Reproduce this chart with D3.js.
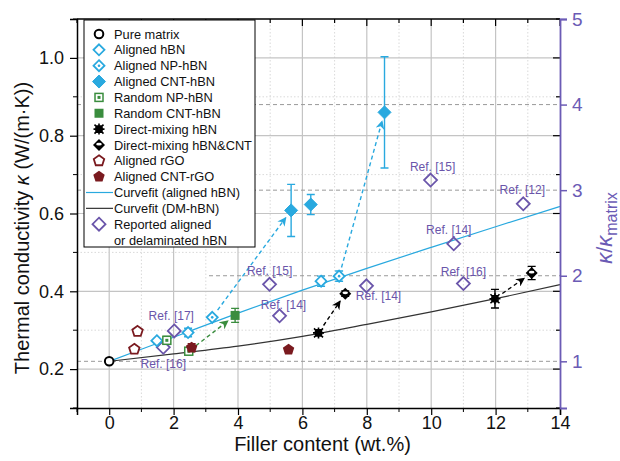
<!DOCTYPE html>
<html>
<head>
<meta charset="utf-8">
<script src="https://cdn.jsdelivr.net/npm/d3@7"></script>
<style>
  body { margin: 0; background: #fff; }
  svg { font-family: "Liberation Sans", Arial, sans-serif; }
</style>
</head>
<body>
<div id="chart"></div>
<script>
// chart data
var pureMatrix = [{x: 0, y: 0.22}];
var alignedHBN = [{x: 1.48, y: 0.273}, {x: 2.45, y: 0.294, e: 0.011}, {x: 6.58, y: 0.426, e: 0.013}];
var alignedNPHBN = [{x: 3.2, y: 0.333}, {x: 7.14, y: 0.439, e: 0.013}];
var alignedCNTHBN = [{x: 5.65, y: 0.608, e: 0.067}, {x: 6.26, y: 0.623, e: 0.026}, {x: 8.55, y: 0.86, e: 0.143}];
var randomNPHBN = [{x: 1.79, y: 0.274, e: 0.01}, {x: 2.47, y: 0.246}];
var randomCNTHBN = [{x: 3.91, y: 0.338, e: 0.018}];
var dmHBN = [{x: 6.5, y: 0.293}, {x: 11.98, y: 0.381, e: 0.024}];
var dmHBNCNT = [{x: 7.33, y: 0.394, e: 0.007}, {x: 13.12, y: 0.447, e: 0.017}];
var alignedRGO = [{x: 0.78, y: 0.251}, {x: 0.88, y: 0.297}];
var alignedCNTRGO = [{x: 2.56, y: 0.255, e: 0.01}, {x: 5.57, y: 0.25}];
var reported = [
  {x: 1.68, y: 0.256, ref: "Ref. [16]"},
  {x: 2.02, y: 0.298, ref: "Ref. [17]"},
  {x: 4.98, y: 0.418, ref: "Ref. [15]"},
  {x: 5.29, y: 0.337, ref: "Ref. [14]"},
  {x: 7.99, y: 0.414, ref: "Ref. [14]"},
  {x: 9.98, y: 0.686, ref: "Ref. [15]"},
  {x: 10.7, y: 0.522, ref: "Ref. [14]"},
  {x: 11.0, y: 0.42, ref: "Ref. [16]"},
  {x: 12.86, y: 0.625, ref: "Ref. [12]"}
];
// where each ref label sits relative to its diamond (px)
var refOffsets = [[0, 21], [-3, -11], [0, -9], [4, -7], [12, 14], [2, -9], [-5, -10], [0, -8], [-1, -10]];

// curve fits
var fitX = [0, 2, 4, 6, 8, 10, 12, 14];
var fitAligned = [0.22, 0.282, 0.344, 0.403, 0.459, 0.513, 0.566, 0.618];
var fitDM = [0.22, 0.239, 0.259, 0.284, 0.315, 0.347, 0.381, 0.417];

// dashed arrows [from, to]
var arrows = [
  {from: [3.2, 0.333], to: [5.65, 0.608], color: "#29a9df"},
  {from: [7.14, 0.439], to: [8.55, 0.86], color: "#29a9df"},
  {from: [2.47, 0.246], to: [3.91, 0.338], color: "#3a8d3e"},
  {from: [6.5, 0.293], to: [7.33, 0.394], color: "#000"},
  {from: [11.98, 0.381], to: [13.12, 0.447], color: "#000"}
];

var xTicks = [0, 2, 4, 6, 8, 10, 12, 14];
var xMinor = [-1, 1, 3, 5, 7, 9, 11, 13];
var yTicks = [0.2, 0.4, 0.6, 0.8, 1.0];
var yMinor = [0.1, 0.3, 0.5, 0.7, 0.9, 1.1];
var rTicks = [1, 2, 3, 4, 5];
var kMatrix = 0.22;

var cyan = "#29a9df", green = "#3a8d3e", red = "#7a1a1f", purple = "#6a55aa", axisPurple = "#6b5bb5";

var svgWidth = 620, svgHeight = 461;
var margin = {top: 19, right: 60, bottom: 53, left: 77};

var svg = d3.select("#chart").append("svg")
  .attr("width", svgWidth)
  .attr("height", svgHeight);

var x = d3.scaleLinear().domain([-1, 14]).range([margin.left, svgWidth - margin.right]);
var y = d3.scaleLinear().domain([0.1, 1.1]).range([svgHeight - margin.bottom, margin.top]);
var yR = d3.scaleLinear().domain([0.1 / kMatrix, 1.1 / kMatrix]).range([svgHeight - margin.bottom, margin.top]);

var x0 = x.range()[0], x1 = x.range()[1], y0 = y.range()[0], y1 = y.range()[1];

// grid
var grid = svg.append("g");
grid.selectAll(".vmaj").data(xTicks.slice(0, -1)).enter().append("line")
  .attr("x1", d => x(d)).attr("x2", d => x(d)).attr("y1", y0).attr("y2", y1)
  .attr("stroke", "#c4c4c4").attr("stroke-width", 1.2);
grid.selectAll(".vmin").data(xMinor.slice(1)).enter().append("line")
  .attr("x1", d => x(d)).attr("x2", d => x(d)).attr("y1", y0).attr("y2", y1)
  .attr("stroke", "#cfcfcf").attr("stroke-width", 0.8).attr("stroke-dasharray", "1.5,2");
grid.selectAll(".hmaj").data(yTicks).enter().append("line")
  .attr("x1", x0).attr("x2", x1).attr("y1", d => y(d)).attr("y2", d => y(d))
  .attr("stroke", "#c4c4c4").attr("stroke-width", 1.2);
grid.selectAll(".hmin").data(yMinor.slice(1, -1)).enter().append("line")
  .attr("x1", x0).attr("x2", x1).attr("y1", d => y(d)).attr("y2", d => y(d))
  .attr("stroke", "#cfcfcf").attr("stroke-width", 0.8).attr("stroke-dasharray", "1.5,2");
// right axis grid (dashed)
grid.selectAll(".rgrid").data(rTicks.slice(0, -1)).enter().append("line")
  .attr("x1", d => d === 2 ? x(3.1) : x0).attr("x2", x1)
  .attr("y1", d => yR(d)).attr("y2", d => yR(d))
  .attr("stroke", "#9a9a9a").attr("stroke-width", 1).attr("stroke-dasharray", "4,3");

// curve fits
var fitLine = d3.line().x(d => x(d[0])).y(d => y(d[1])).curve(d3.curveMonotoneX);
svg.append("path").datum(fitX.map((v, i) => [v, fitAligned[i]]))
  .attr("d", fitLine).attr("fill", "none").attr("stroke", cyan).attr("stroke-width", 1.2);
svg.append("path").datum(fitX.map((v, i) => [v, fitDM[i]]))
  .attr("d", fitLine).attr("fill", "none").attr("stroke", "#333").attr("stroke-width", 1.2);

// arrows
var defs = svg.append("defs");
arrows.forEach(function(a, i) {
  defs.append("marker").attr("id", "ah" + i)
    .attr("viewBox", "0 0 10 10").attr("refX", 9).attr("refY", 5)
    .attr("markerWidth", 9).attr("markerHeight", 9).attr("markerUnits", "userSpaceOnUse")
    .attr("orient", "auto")
    .append("path").attr("d", "M0,0 L10,5 L0,10 L3,5 Z").attr("fill", a.color);
  var sx = x(a.from[0]), sy = y(a.from[1]), tx = x(a.to[0]), ty = y(a.to[1]);
  var len = Math.hypot(tx - sx, ty - sy), ux = (tx - sx) / len, uy = (ty - sy) / len;
  svg.append("line")
    .attr("x1", sx + ux * 9).attr("y1", sy + uy * 9)
    .attr("x2", tx - ux * 9).attr("y2", ty - uy * 9)
    .attr("stroke", a.color).attr("stroke-width", 1.4).attr("stroke-dasharray", "4,3")
    .attr("marker-end", "url(#ah" + i + ")");
});

// symbols
function diamond(s) { return "M0," + (-s) + "L" + s + ",0L0," + s + "L" + (-s) + ",0Z"; }
function pentagon(r) {
  var pts = d3.range(5).map(i => {
    var a = -Math.PI / 2 + i * 2 * Math.PI / 5;
    return [r * Math.cos(a), r * Math.sin(a)];
  });
  return "M" + pts.map(p => p.join(",")).join("L") + "Z";
}
function drawSymbol(g, type, cx, cy) {
  var s = g.append("g").attr("transform", `translate(${cx},${cy})`);
  if (type === "circle") {
    s.append("circle").attr("r", 4.3).attr("fill", "#fff").attr("stroke", "#000").attr("stroke-width", 2);
  } else if (type === "diamondOpen") {
    s.append("path").attr("d", diamond(5.5)).attr("fill", "#fff").attr("stroke", cyan).attr("stroke-width", 1.8);
  } else if (type === "diamondDot") {
    s.append("path").attr("d", diamond(5.5)).attr("fill", "#fff").attr("stroke", cyan).attr("stroke-width", 1.8);
    s.append("circle").attr("r", 1.3).attr("fill", cyan);
  } else if (type === "diamondFill") {
    s.append("path").attr("d", diamond(6.5)).attr("fill", cyan).attr("stroke", cyan).attr("stroke-width", 1);
  } else if (type === "squareDot") {
    s.append("rect").attr("x", -4).attr("y", -4).attr("width", 8).attr("height", 8)
      .attr("fill", "#fff").attr("stroke", green).attr("stroke-width", 1.5);
    s.append("rect").attr("x", -1.5).attr("y", -1.5).attr("width", 3).attr("height", 3).attr("fill", green);
  } else if (type === "squareFill") {
    s.append("rect").attr("x", -4.5).attr("y", -4.5).attr("width", 9).attr("height", 9).attr("fill", green);
  } else if (type === "dmStar") {
    s.append("path").attr("d", "M-4.5,-4.5L4.5,4.5M-4.5,4.5L4.5,-4.5M0,-5.5L0,5.5M-5.5,0L5.5,0M-3,-3H3V3H-3Z")
      .attr("fill", "none").attr("stroke", "#000").attr("stroke-width", 1.6);
  } else if (type === "diamondBand") {
    s.append("path").attr("d", diamond(6)).attr("fill", "#000");
    s.append("ellipse").attr("cx", 0).attr("cy", -0.8).attr("rx", 2.8).attr("ry", 1.4).attr("fill", "#fff");
  } else if (type === "pentOpen") {
    s.append("path").attr("d", pentagon(5.5)).attr("fill", "#fff").attr("stroke", red).attr("stroke-width", 1.8);
  } else if (type === "pentFill") {
    s.append("path").attr("d", pentagon(6)).attr("fill", red);
  } else if (type === "diamondPurple") {
    s.append("path").attr("d", diamond(6.5)).attr("fill", "none").attr("stroke", purple).attr("stroke-width", 1.8);
  }
}

var series = [
  {name: "Pure matrix", data: pureMatrix, type: "circle", color: "#000"},
  {name: "Aligned hBN", data: alignedHBN, type: "diamondOpen", color: cyan},
  {name: "Aligned NP-hBN", data: alignedNPHBN, type: "diamondDot", color: cyan},
  {name: "Aligned CNT-hBN", data: alignedCNTHBN, type: "diamondFill", color: cyan},
  {name: "Random NP-hBN", data: randomNPHBN, type: "squareDot", color: green},
  {name: "Random CNT-hBN", data: randomCNTHBN, type: "squareFill", color: green},
  {name: "Direct-mixing hBN", data: dmHBN, type: "dmStar", color: "#000"},
  {name: "Direct-mixing hBN&CNT", data: dmHBNCNT, type: "diamondBand", color: "#000"},
  {name: "Aligned rGO", data: alignedRGO, type: "pentOpen", color: red},
  {name: "Aligned CNT-rGO", data: alignedCNTRGO, type: "pentFill", color: red}
];

// error bars then symbols
var marks = svg.append("g");
series.forEach(function(s) {
  s.data.filter(d => d.e).forEach(function(d) {
    var cx = x(d.x);
    marks.append("path")
      .attr("d", `M${cx},${y(d.y - d.e)}V${y(d.y + d.e)}M${cx - 4},${y(d.y - d.e)}H${cx + 4}M${cx - 4},${y(d.y + d.e)}H${cx + 4}`)
      .attr("stroke", s.color).attr("stroke-width", 1.4).attr("fill", "none");
  });
});
reported.forEach(function(d, i) {
  drawSymbol(marks, "diamondPurple", x(d.x), y(d.y));
  marks.append("text")
    .attr("x", x(d.x) + refOffsets[i][0]).attr("y", y(d.y) + refOffsets[i][1])
    .attr("text-anchor", "middle").attr("font-size", 12).attr("fill", purple)
    .text(d.ref);
});
series.forEach(function(s) {
  s.data.forEach(d => drawSymbol(marks, s.type, x(d.x), y(d.y)));
});

// axes
var bottomAxis = d3.axisBottom(x).tickValues(xTicks).tickSize(7).tickPadding(1).tickFormat(d3.format("d"));
var leftAxis = d3.axisLeft(y).tickValues(yTicks).tickSize(7).tickPadding(6).tickFormat(d3.format(".1f"));

var gb = svg.append("g").attr("transform", `translate(0,${y0})`).call(bottomAxis);
gb.append("g").selectAll("line").data(xMinor).enter().append("line")
  .attr("x1", d => x(d)).attr("x2", d => x(d)).attr("y1", 0).attr("y2", 4).attr("stroke", "#000");
var gl = svg.append("g").attr("transform", `translate(${x0},0)`).call(leftAxis);
gl.append("g").selectAll("line").data(yMinor).enter().append("line")
  .attr("y1", d => y(d)).attr("y2", d => y(d)).attr("x1", 0).attr("x2", -4).attr("stroke", "#000");
[gb, gl].forEach(function(g) {
  g.select(".domain").attr("stroke-width", 1.5);
  g.selectAll(".tick line").attr("stroke-width", 1.2);
  g.selectAll("text").attr("font-size", 18).attr("fill", "#111").attr("font-family", "Liberation Sans, Arial, sans-serif");
});

// top frame with inward ticks
var frame = svg.append("g");
frame.append("line").attr("x1", x0).attr("x2", x1).attr("y1", y1).attr("y2", y1).attr("stroke", "#000").attr("stroke-width", 1.5);
frame.selectAll(".tt").data(xTicks.concat(xMinor)).enter().append("line")
  .attr("x1", d => x(d)).attr("x2", d => x(d)).attr("y1", y1)
  .attr("y2", d => y1 + (xTicks.indexOf(d) >= 0 ? 7 : 4)).attr("stroke", "#000").attr("stroke-width", 1.2);
// right side inward ticks for left axis
frame.selectAll(".rt").data(yTicks.concat(yMinor)).enter().append("line")
  .attr("y1", d => y(d)).attr("y2", d => y(d)).attr("x1", x1)
  .attr("x2", d => x1 - (yTicks.indexOf(d) >= 0 ? 7 : 4)).attr("stroke", "#000").attr("stroke-width", 1.2);

// right axis (κ/κmatrix)
var rightAxis = d3.axisRight(yR).tickValues(rTicks).tickSize(7).tickPadding(5).tickFormat(d3.format("d"));
var gr = svg.append("g").attr("transform", `translate(${x1},0)`).call(rightAxis);
gr.select(".domain").attr("stroke", axisPurple).attr("stroke-width", 1.8);
gr.selectAll(".tick line").attr("stroke", axisPurple).attr("stroke-width", 1.5);
gr.selectAll("text").attr("font-size", 19).attr("fill", axisPurple).attr("font-family", "Liberation Sans, Arial, sans-serif");

// axis titles
svg.append("text")
  .attr("x", (x0 + x1) / 2 + 4).attr("y", 451)
  .attr("text-anchor", "middle").attr("font-size", 20).attr("fill", "#111")
  .text("Filler content (wt.%)");

var yt = svg.append("text")
  .attr("transform", "translate(29,228) rotate(-90)")
  .attr("text-anchor", "middle").attr("font-size", 20).attr("fill", "#111");
yt.append("tspan").text("Thermal conductivity ");
yt.append("tspan").attr("font-style", "italic").text("κ");
yt.append("tspan").text(" (W/(m·K))");

var rt = svg.append("text")
  .attr("transform", "translate(612,228) rotate(-90)")
  .attr("text-anchor", "middle").attr("font-size", 22).attr("fill", axisPurple);
rt.append("tspan").attr("font-style", "italic").text("κ");
rt.append("tspan").text("/");
rt.append("tspan").attr("font-style", "italic").text("κ");
rt.append("tspan").attr("font-size", 16).attr("dy", 5).text("matrix");

// legend
var legend = svg.append("g");
legend.append("rect").attr("x", 84).attr("y", 20).attr("width", 171).attr("height", 227)
  .attr("fill", "#fff").attr("stroke", "#000").attr("stroke-width", 1);
var rowY = d => 34 + d * 15.85;
var legendRows = series.map(s => ({name: s.name, type: s.type}))
  .concat([{name: "Curvefit (aligned hBN)", line: cyan}, {name: "Curvefit (DM-hBN)", line: "#333"},
           {name: "Reported aligned", type: "diamondPurple"}, {name: "or delaminated hBN"}]);
legendRows.forEach(function(r, i) {
  var ly = rowY(i);
  if (r.type) drawSymbol(legend, r.type, 99, ly);
  if (r.line) legend.append("line").attr("x1", 86).attr("x2", 113).attr("y1", ly).attr("y2", ly)
    .attr("stroke", r.line).attr("stroke-width", 1.2);
  legend.append("text").attr("x", 114).attr("y", ly).attr("dy", "0.36em")
    .attr("font-size", 12.8).attr("fill", "#111").text(r.name);
});
</script>
</body>
</html>
